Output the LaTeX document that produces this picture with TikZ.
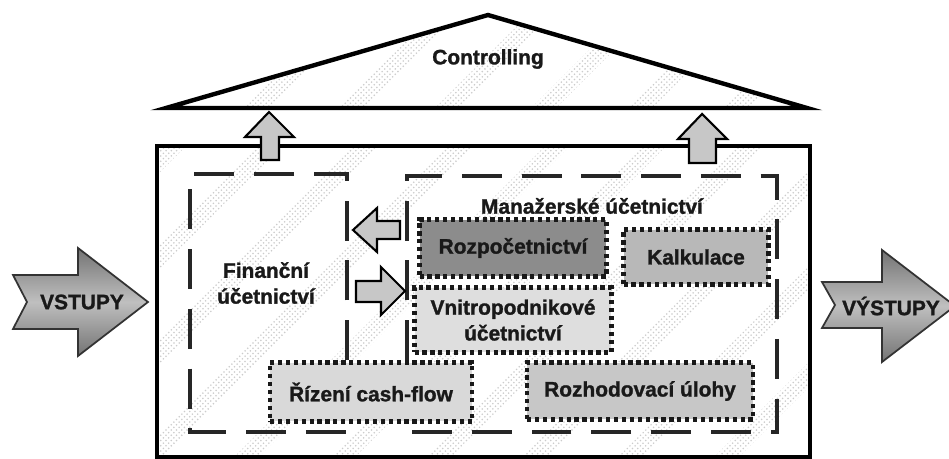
\documentclass[tikz,border=0pt]{standalone}
\usepackage{fontspec}
\setmainfont{Liberation Sans}[BoldFeatures={FakeBold=1.3}]
\usetikzlibrary{patterns}
\tikzset{
  txt/.style={font=\bfseries\fontsize{11.9}{14.7}\selectfont, text=black!90, align=center, inner sep=0pt},
  dotbox/.style={txt, draw=black!90, line width=2.4pt, dash pattern=on 2.4pt off 2.1pt},
  dashframe/.style={draw=black!85, line width=2.3pt, dash pattern=on 22.7pt off 11.3pt},
  blockarrow/.style={draw=black, line width=1.2pt, fill=black!22, line join=miter},
  bigarrow/.style={draw=black!80, line width=1pt, top color=black!55, bottom color=black!55, middle color=black!25},
  band/.style={pattern=crosshatch dots, pattern color=black!20},
}

\begin{document}
\begin{tikzpicture}[x=0.02cm, y=-0.02cm]
	%%%%% START %%%%%
	\clip (0,0) rectangle (949,459);
	\fill[white] (0,0) rectangle (949,459);
	
	% dotted stripes in the roof and the body
	\begin{scope}
		\clip (160,108) -- (488,13) -- (813,108) -- cycle;
		\foreach \k in {-2,...,9}
			\fill[band] ({186+96*\k-400},565) -- ({186+96*\k+200},-35) -- ({211+96*\k+200},-35) -- ({211+96*\k-400},565) -- cycle;
	\end{scope}
	\begin{scope}
		\clip (157,146) rectangle (810,457);
		\foreach \k in {-2,...,10}
			\fill[band] ({238+96*\k-400},565) -- ({238+96*\k+200},-35) -- ({263+96*\k+200},-35) -- ({263+96*\k-400},565) -- cycle;
	\end{scope}
	
	% roof and body
	\draw[line width=2.5pt, line join=miter] (166,108) -- (488,15) -- (807,108) -- cycle;
	\draw[line width=2pt] (157,146) rectangle (810,457);
	
	% dashed frames
	\draw[dashframe] (347,360) -- (347,174) -- (190,174) -- (190,432) -- (347,432);
	\draw[dashframe] (407,360) -- (407,176) -- (777,176) -- (777,432) -- (407,432);
	
	% boxes
	\node[dotbox, fill=black!45, minimum width=3.74cm, minimum height=1.14cm] (rozp) at (513,248) {Rozpočetnictví};
	\node[dotbox, fill=black!28, minimum width=2.9cm, minimum height=1.1cm] (kalk) at (696,257) {Kalkulace};
	\node[dotbox, fill=black!13, minimum width=3.94cm, minimum height=1.3cm] (vnitro) at (513,320) {Vnitropodnikové\\účetnictví};
	\node[dotbox, fill=black!15, minimum width=4.04cm, minimum height=1.18cm] (rizeni) at (371,392) {Řízení cash-flow};
	\node[dotbox, fill=black!22, minimum width=4.52cm, minimum height=1.14cm] (rozh) at (640,391) {Rozhodovací úlohy};
	
	% arrows between the frames
	\draw[blockarrow] (353,230) -- (377,208) -- (377,221) -- (400,221) -- (400,239) -- (377,239) -- (377,252) -- cycle;
	\draw[blockarrow] (405,291) -- (381,267) -- (381,281) -- (356,281) -- (356,302) -- (381,302) -- (381,315) -- cycle;
	
	% arrows up to the roof
	\draw[blockarrow] (269,112) -- (294,137) -- (279,137) -- (279,160) -- (261,160) -- (261,137) -- (245,137) -- cycle;
	\draw[blockarrow] (702,114) -- (727,139) -- (716,139) -- (716,163) -- (689,163) -- (689,139) -- (678,139) -- cycle;
	
	% in and out
	\draw[bigarrow] (13,275) -- (78,275) -- (78,248) -- (148,302) -- (78,356) -- (78,329) -- (13,329) -- (27,302) -- cycle;
	\draw[bigarrow] (822,282) -- (882,282) -- (882,250) -- (955,306) -- (882,362) -- (882,328) -- (822,328) -- (835,305) -- cycle;
	
	% texts
	\node[txt] (vstupy) at (82,302) {VSTUPY};
	\node[txt] (vystupy) at (891,306) {VÝSTUPY};
	\node[txt] (contr) at (488,59) {Controlling};
	\node[txt] (manaz) at (592,206) {Manažerské účetnictví};
	\node[txt] (financ) at (266,283) {Finanční\\účetnictví};
	%%%%% END %%%%%
\end{tikzpicture}
\end{document}
